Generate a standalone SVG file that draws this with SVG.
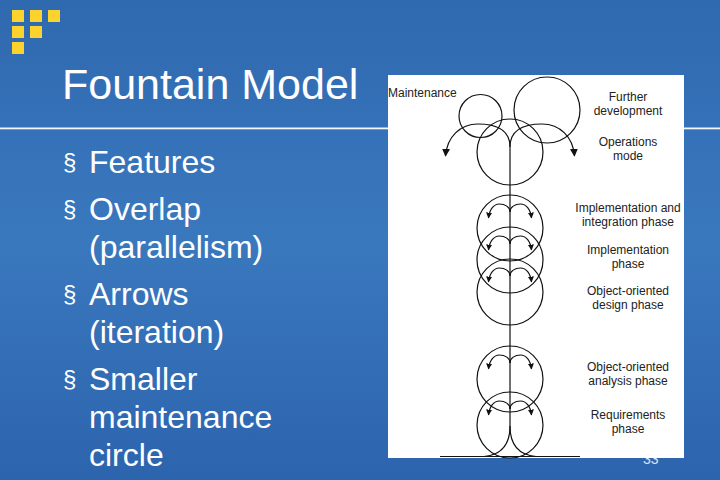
<svg xmlns="http://www.w3.org/2000/svg" width="720" height="480" viewBox="0 0 720 480">
  <defs>
    <linearGradient id="bg" x1="0" y1="0" x2="0" y2="1">
      <stop offset="0" stop-color="#2f69b0"/>
      <stop offset="0.5" stop-color="#3a78be"/>
      <stop offset="1" stop-color="#2c64ad"/>
    </linearGradient>
    <marker id="ah" viewBox="0 0 10 10" refX="9" refY="5" markerWidth="6" markerHeight="6" orient="auto" markerUnits="userSpaceOnUse">
      <path d="M0,0 L10,5 L0,10 Z" fill="#111"/>
    </marker>
    <marker id="ahL" viewBox="0 0 10 10" refX="9" refY="5" markerWidth="8" markerHeight="8" orient="auto" markerUnits="userSpaceOnUse">
      <path d="M0,0 L10,5 L0,10 Z" fill="#111"/>
    </marker>
    <g id="arcs">
      <path d="M510,-16 C510,-21 505,-24 499.5,-24 C494,-24 489.5,-19 488.5,-10" marker-end="url(#ah)"/>
      <path d="M510,-16 C510,-21 515,-24 520.5,-24 C526,-24 530.5,-19 531.5,-10" marker-end="url(#ah)"/>
    </g>
  </defs>
  <style>
    .sq { fill: #fcd22c; }
    .title { font-family: "Liberation Sans", Arial, sans-serif; font-size: 43px; fill: #ffffff; }
    .bul { font-family: "Liberation Sans", Arial, sans-serif; font-size: 32px; fill: #ffffff; }
    .mark { font-family: "Liberation Sans", Arial, sans-serif; font-size: 24px; fill: #ffffff; }
    .lbl { font-family: "Liberation Sans", Arial, sans-serif; font-size: 12px; fill: #222222; text-anchor: middle; }
    .lblL { font-family: "Liberation Sans", Arial, sans-serif; font-size: 12px; fill: #222222; }
    .c { fill: none; stroke: #111; stroke-width: 1.2; }
    .ln { fill: none; stroke: #111; stroke-width: 1.2; }
    .pg { font-family: "Liberation Sans", Arial, sans-serif; font-size: 14px; fill: #d8e6f5; }
  </style>

  <rect x="0" y="0" width="720" height="480" fill="url(#bg)"/>

  <g id="logo">
    <rect class="sq" x="12" y="10" width="12" height="12"/>
    <rect class="sq" x="30" y="10" width="12" height="12"/>
    <rect class="sq" x="48" y="10" width="12" height="12"/>
    <rect class="sq" x="12" y="26" width="12" height="12"/>
    <rect class="sq" x="30" y="26" width="12" height="12"/>
    <rect class="sq" x="12" y="42" width="12" height="12"/>
  </g>

  <text class="title" x="62" y="99">Fountain Model</text>
  <rect x="0" y="127.5" width="720" height="1.8" fill="#f4f8fc"/>

  <g id="bullets">
    <text class="mark" x="63" y="170">§</text>
    <text class="bul" x="89" y="173">Features</text>
    <text class="mark" x="63" y="217">§</text>
    <text class="bul" x="89" y="220">Overlap</text>
    <text class="bul" x="89" y="258">(parallelism)</text>
    <text class="mark" x="63" y="302">§</text>
    <text class="bul" x="89" y="305">Arrows</text>
    <text class="bul" x="89" y="343">(iteration)</text>
    <text class="mark" x="63" y="387">§</text>
    <text class="bul" x="89" y="390">Smaller</text>
    <text class="bul" x="89" y="428">maintenance</text>
    <text class="bul" x="89" y="466">circle</text>
  </g>

  <text class="pg" x="643" y="464">33</text>

  <rect x="388" y="75" width="296" height="383" fill="#ffffff"/>

  <g id="connectors">
    <line class="ln" x1="510" y1="147" x2="510" y2="426"/>
    <path class="ln" d="M510,426 C510,445 501,455 484,456.5"/>
    <path class="ln" d="M510,426 C510,445 519,455 536,456.5"/>
    <line class="ln" x1="440" y1="456.5" x2="580" y2="456.5"/>
    <path class="ln" d="M510,147 C510,129 495,124 478,124 C460,124 447,137 445.5,156" marker-end="url(#ahL)"/>
    <path class="ln" d="M510,147 C510,129 525,124 542,124 C560,124 573,137 574.5,156" marker-end="url(#ahL)"/>
  </g>

  <g id="maintenance">
    <circle class="c" cx="480.5" cy="116" r="21.5"/>
    <text class="lblL" x="388" y="97">Maintenance</text>
  </g>
  <g id="further-development">
    <circle class="c" cx="547" cy="110" r="33"/>
    <text class="lbl" x="628" y="101">Further</text>
    <text class="lbl" x="628" y="115">development</text>
  </g>
  <g id="operations-mode">
    <circle class="c" cx="510" cy="152" r="33"/>
    <text class="lbl" x="628" y="146">Operations</text>
    <text class="lbl" x="628" y="160">mode</text>
  </g>
  <g id="implementation-integration">
    <circle class="c" cx="510" cy="228" r="33"/>
    <use href="#arcs" class="ln" transform="translate(0,228)"/>
    <text class="lbl" x="628" y="212">Implementation and</text>
    <text class="lbl" x="628" y="226">integration phase</text>
  </g>
  <g id="implementation">
    <circle class="c" cx="510" cy="260" r="33"/>
    <use href="#arcs" class="ln" transform="translate(0,260)"/>
    <text class="lbl" x="628" y="254">Implementation</text>
    <text class="lbl" x="628" y="268">phase</text>
  </g>
  <g id="oo-design">
    <circle class="c" cx="510" cy="292" r="33"/>
    <use href="#arcs" class="ln" transform="translate(0,292)"/>
    <text class="lbl" x="628" y="295">Object-oriented</text>
    <text class="lbl" x="628" y="309">design phase</text>
  </g>
  <g id="oo-analysis">
    <circle class="c" cx="510" cy="379" r="33"/>
    <use href="#arcs" class="ln" transform="translate(0,379)"/>
    <text class="lbl" x="628" y="371">Object-oriented</text>
    <text class="lbl" x="628" y="385">analysis phase</text>
  </g>
  <g id="requirements">
    <circle class="c" cx="510" cy="425" r="33"/>
    <use href="#arcs" class="ln" transform="translate(0,425)"/>
    <text class="lbl" x="628" y="419">Requirements</text>
    <text class="lbl" x="628" y="433">phase</text>
  </g>
</svg>
